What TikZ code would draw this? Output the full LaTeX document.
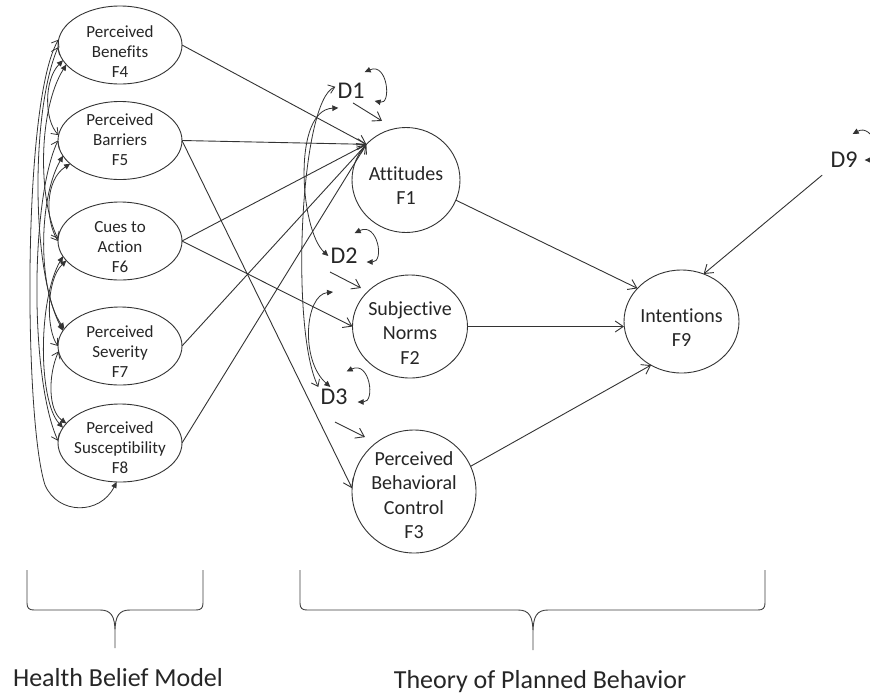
\documentclass[tikz,border=0pt]{standalone}
\usepackage{fontspec}
\setmainfont{Carlito}[Ligatures={NoCommon,NoRare,NoContextual}]
\usetikzlibrary{arrows.meta,shapes.geometric,calc}
\newcommand{\nodetxt}[2]{\makebox[0pt]{\raisebox{#1}[0pt][0pt]{\begin{tabular}[t]{@{}c@{}}#2\end{tabular}}}}
\begin{document}
\begin{tikzpicture}[x=1pt,y=-1pt,
  line/.style={draw=black!80, line width=0.9pt},
  hbm/.style={ellipse, line, minimum width=124pt, minimum height=78pt, inner sep=0pt, outer sep=0pt, font=\fontsize{17}{20}\selectfont, text=black!85},
  tpb/.style={ellipse, line, inner sep=0pt, outer sep=0pt, font=\fontsize{20}{24.5}\selectfont, text=black!85},
  dlab/.style={inner sep=2pt, font=\fontsize{24}{28}\selectfont, text=black!85},
  blab/.style={inner sep=0pt, font=\fontsize{26}{30}\selectfont, text=black!85, anchor=base},
  ar/.style={line, -{Straight Barb[length=8pt,width=11pt]}},
  cov/.style={draw=black!80, line width=0.8pt},
  brace/.style={draw=black!75, line width=0.9pt},
  Fh/.tip={Triangle[length=6pt,width=5.5pt]},
  Oh/.tip={Straight Barb[length=6pt,width=9pt]},
]
\useasboundingbox (0,0) rectangle (870,694);
\fill[white] (0,0) rectangle (870,694);

% Health Belief Model factors
\node[hbm] (f4) at (120,45) {\nodetxt{7.3pt}{Perceived\\Benefits\\F4}};
\node[hbm] (f5) at (120,140.5) {\nodetxt{15.5pt}{Perceived\\Barriers\\F5}};
\node[hbm] (f6) at (120,241) {\nodetxt{9pt}{Cues to\\Action\\F6}};
\node[hbm] (f7) at (120,346) {\nodetxt{9pt}{Perceived\\Severity\\F7}};
\node[hbm] (f8) at (120,443) {\nodetxt{10pt}{Perceived\\Susceptibility\\F8}};

% Theory of Planned Behavior factors
\node[tpb, minimum width=108pt, minimum height=105pt] (f1) at (406,180) {\nodetxt{0pt}{Attitudes\\F1}};
\node[tpb, minimum width=115pt, minimum height=103pt] (f2) at (410,326.5) {\nodetxt{11.5pt}{Subjective\\Norms\\F2}};
\node[tpb, minimum width=124pt, minimum height=123pt] (f3) at (414,491.5) {\nodetxt{26.5pt}{Perceived\\Behavioral\\Control\\F3}};
\node[tpb, minimum width=115pt, minimum height=103pt] (f9) at (681.5,321.5) {\nodetxt{-0.5pt}{Intentions\\F9}};

% disturbances
\node[dlab] (d1) at (351,91) {D1};
\node[dlab] (d2) at (344,256) {D2};
\node[dlab] (d3) at (334,397) {D3};
\node[dlab] (d9) at (844,160) {D9};

% paths HBM -> TPB
\draw[ar] (f4.east) -- (f1.138);
\draw[ar] (f5.east) -- (f1.138);
\draw[ar] (f6.east) -- (f1.138);
\draw[ar] (f7.east) -- (f1.138);
\draw[ar] (f8.east) -- (f1.138);
\draw[ar] (f5.east) -- (f3.177);
\draw[ar] (f6.east) -- (f2.180);

% paths TPB -> Intentions
\draw[ar] (f1.-22) -- (f9.143);
\draw[ar] (f2.east) -- (f2.east -| f9.west);
\draw[ar] (f3.24) -- (f9.235);
\draw[ar, shorten <=8pt] (d9.south west) -- (f9.65);

% disturbance paths
\draw[ar] ([shift={(2,2)}]d1.south) -- ([shift={(31,20)}]d1.south);
\draw[ar] ([shift={(-14,6)}]d2.south) -- ([shift={(17,22)}]d2.south);
\draw[ar] ([shift={(1,15)}]d3.south) -- ([shift={(31,30)}]d3.south);

% disturbance variances (self loops)
\draw[cov, Fh-Fh] ([shift={(-2,-9)}]d1.north east) .. controls +(23,-10) and +(17,4) .. ([shift={(8,0)}]d1.south east);
\draw[cov, Fh-Fh] ([shift={(-5,-13)}]d2.north east) .. controls +(23,-11) and +(18,0) .. ([shift={(7,6)}]d2.east);
\draw[cov, Fh-Fh] ([shift={(-3,-15.5)}]d3.north east) .. controls +(23,-11) and +(18,0) .. ([shift={(8,5)}]d3.east);
\draw[cov, Fh-Fh] ([shift={(-7,-16)}]d9.north east) .. controls +(20,-11) and +(21,0) .. ([shift={(5,0)}]d9.east);

% disturbance covariances
\draw[cov, Fh-Fh] ([shift={(3,7)}]d1.south west) .. controls (292,110) and (300,230) .. (d2.west);
\draw[cov, Oh-Oh] (d1.165) .. controls (300,100) and (290,330) .. (d3.north west);
\draw[cov, Fh-Fh] ([shift={(-11,26)}]d2.south) .. controls (305,295) and (300,360) .. (d3.110);

% HBM covariances
\draw[cov, Fh-Oh] (f4.195) .. controls (44,80) and (44,120) .. (f5.175);
\draw[cov, Fh-Oh] (f4.200) .. controls (38,110) and (38,200) .. (f6.178);
\draw[cov, Oh-Fh] (f4.182) .. controls (31,110) and (31,270) .. (f7.165);
\draw[cov, Oh-Fh] (f4.175) .. controls (22,100) and (24,420) .. (45,485) .. controls (58,515) and (100,515) .. (f8.265);
\draw[cov, Fh-Oh] (f5.205) .. controls (45,180) and (45,220) .. (f6.180);
\draw[cov, Fh-Fh] (f5.195) .. controls (38,200) and (38,290) .. (f7.163);
\draw[cov, Oh-Oh] (f5.180) .. controls (30,200) and (30,380) .. (f8.178);
\draw[cov, Fh-Oh] (f6.200) .. controls (46,280) and (46,330) .. (f7.180);
\draw[cov, Fh-Fh] (f6.195) .. controls (38,300) and (38,400) .. (f8.165);
\draw[cov, Oh-Fh] (f7.185) .. controls (48,375) and (48,410) .. (f8.160);

% braces
\draw[brace] (27,570) -- (27,603) .. controls (27,608) and (29,610) .. (34,610) -- (100,610)
  .. controls (111,610) and (115,616) .. (115,632) -- (115,648)
  (115,632) .. controls (115,616) and (119,610) .. (130,610) -- (196,610)
  .. controls (201,610) and (203,608) .. (203,603) -- (203,570);
\draw[brace] (300,570) -- (300,603) .. controls (300,608) and (302,610) .. (307,610) -- (518,610)
  .. controls (529,610) and (533,616) .. (533,633) -- (533,650)
  (533,633) .. controls (533,616) and (537,610) .. (548,610) -- (758,610)
  .. controls (763,610) and (765,608) .. (765,603) -- (765,570);

\node[blab] (hbm) at (118,686) {Health Belief Model};
\node[blab] (tpbl) at (540,688) {Theory of Planned Behavior};
\end{tikzpicture}
\end{document}
